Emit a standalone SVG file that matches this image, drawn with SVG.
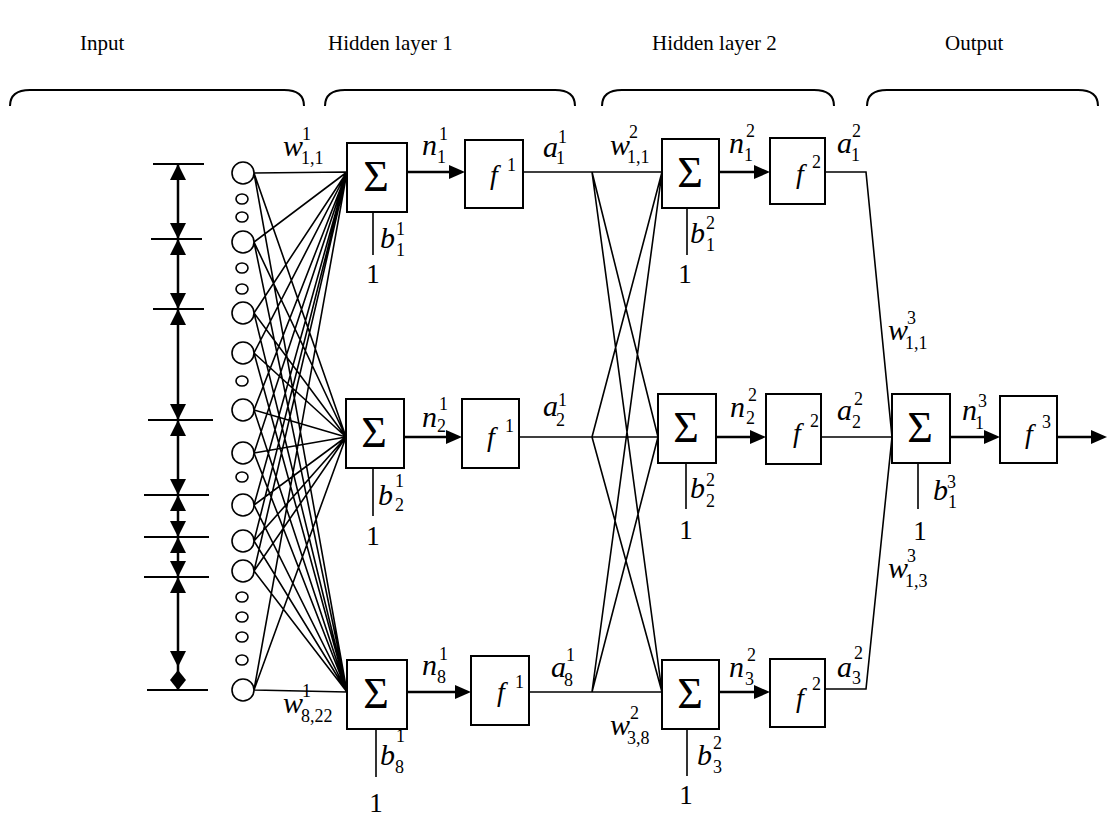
<svg xmlns="http://www.w3.org/2000/svg" width="1107" height="816" viewBox="0 0 1107 816">
<style>
text{font-family:"Liberation Serif","Times New Roman",Times,"DejaVu Serif","Noto Serif",serif;fill:#000}
.hd{font-size:21px}
.it{font-style:italic;font-size:30px}
.fi{font-style:italic;font-size:28px}
.sc{font-size:18px}
.sg{font-size:44px;text-anchor:middle}
.one{font-size:27px;text-anchor:middle}
.box{fill:#fff;stroke:#000;stroke-width:2}
.ln{fill:none;stroke:#000;stroke-width:1.6}
.th{fill:none;stroke:#000;stroke-width:2.5}
.tk{fill:none;stroke:#000;stroke-width:1.8}
.cir{fill:#fff;stroke:#000;stroke-width:1.6}
.ah{fill:#000;stroke:none}
.br{fill:none;stroke:#000;stroke-width:2}
</style>

<g id="headers">
<text class="hd" x="80" y="50">Input</text>
<text class="hd" x="328" y="50">Hidden layer 1</text>
<text class="hd" x="652" y="50">Hidden layer 2</text>
<text class="hd" x="945" y="50">Output</text>
<path class="br" d="M10 106 C10 96 16 90 30 90 L284 90 C298 90 304 96 304 106"/>
<path class="br" d="M325 106 C325 96 331 90 345 90 L555 90 C569 90 575 96 575 106"/>
<path class="br" d="M602 106 C602 96 608 90 622 90 L814 90 C828 90 834 96 834 106"/>
<path class="br" d="M867 106 C867 96 873 90 887 90 L1078 90 C1092 90 1098 96 1098 106"/>
</g>

<g id="input-ranges">
<line class="tk" x1="153" y1="164" x2="204" y2="164"/>
<line class="tk" x1="151" y1="239" x2="202" y2="239"/>
<line class="tk" x1="153" y1="309" x2="204" y2="309"/>
<line class="tk" x1="148" y1="420" x2="213" y2="420"/>
<line class="tk" x1="144" y1="495" x2="209" y2="495"/>
<line class="tk" x1="144" y1="537" x2="209" y2="537"/>
<line class="tk" x1="144" y1="577" x2="209" y2="577"/>
<line class="tk" x1="147" y1="690" x2="208" y2="690"/>
<line class="th" x1="178" y1="164" x2="178" y2="690"/>
<path class="ah" d="M178 164 L186 180 L170 180 Z M178 239 L186 223 L170 223 Z"/>
<path class="ah" d="M178 239 L186 255 L170 255 Z M178 309 L186 293 L170 293 Z"/>
<path class="ah" d="M178 309 L186 325 L170 325 Z M178 420 L186 404 L170 404 Z"/>
<path class="ah" d="M178 420 L186 436 L170 436 Z M178 495 L186 479 L170 479 Z"/>
<path class="ah" d="M178 495 L186 511 L170 511 Z M178 537 L186 521 L170 521 Z"/>
<path class="ah" d="M178 537 L186 553 L170 553 Z M178 577 L186 561 L170 561 Z"/>
<path class="ah" d="M178 577 L186 593 L170 593 Z M178 667 L186 651 L170 651 Z"/>
<path class="ah" d="M178 670 L186 680 L178 690 L170 680 Z"/>
</g>

<g id="connectors">
<path class="ln" d="M254 173 L347 172 M254 173 L346 437 M254 173 L347 692
M254 242 L347 172 M254 242 L346 437 M254 242 L347 692
M254 313 L347 172 M254 313 L346 437 M254 313 L347 692
M254 353 L347 172 M254 353 L346 437 M254 353 L347 692
M254 410 L347 172 M254 410 L346 437 M254 410 L347 692
M254 453 L347 172 M254 453 L346 437 M254 453 L347 692
M254 505 L347 172 M254 505 L346 437 M254 505 L347 692
M254 541 L347 172 M254 541 L346 437 M254 541 L347 692
M254 571 L347 172 M254 571 L346 437 M254 571 L347 692
M254 690 L347 172 M254 690 L346 437 M254 690 L347 692"/>
<line class="th" x1="407" y1="172" x2="450" y2="172"/>
<path class="ah" d="M465 172 L449 165 L449 179 Z"/>
<line class="th" x1="404" y1="437" x2="447" y2="437"/>
<path class="ah" d="M462 437 L446 430 L446 444 Z"/>
<line class="th" x1="407" y1="692" x2="456" y2="692"/>
<path class="ah" d="M471 692 L455 685 L455 699 Z"/>
<path class="ln" d="M373 212 L373 255 M373 468 L373 516 M376 729 L376 777 M687 208 L687 255 M686 463 L686 509 M687 729 L687 776 M918 463 L918 509"/>
<path class="ln" d="M523 172 L662 172 M519 437 L658 437 M529 692 L662 692
M592 172 L658 437 M592 172 L662 692
M592 437 L662 172 M592 437 L662 692
M592 692 L662 172 M592 692 L658 437"/>
<line class="th" x1="719" y1="172" x2="755" y2="172"/>
<path class="ah" d="M770 172 L754 165 L754 179 Z"/>
<line class="th" x1="716" y1="437" x2="751" y2="437"/>
<path class="ah" d="M766 437 L750 430 L750 444 Z"/>
<line class="th" x1="719" y1="692" x2="755" y2="692"/>
<path class="ah" d="M770 692 L754 685 L754 699 Z"/>
<path class="ln" d="M825 172 L866 172 L892 437 M821 437 L892 437 M825 689 L866 689 L892 437"/>
<line class="th" x1="950" y1="437" x2="985" y2="437"/>
<path class="ah" d="M1000 437 L984 430 L984 444 Z"/>
<line class="th" x1="1057" y1="437" x2="1092" y2="437"/>
<path class="ah" d="M1107 437 L1091 430 L1091 444 Z"/>
</g>

<g id="input-nodes">
<circle class="cir" cx="243" cy="173" r="11"/>
<ellipse class="cir" cx="242" cy="199" rx="6" ry="5"/>
<ellipse class="cir" cx="242" cy="217" rx="6" ry="5"/>
<circle class="cir" cx="243" cy="242" r="11"/>
<ellipse class="cir" cx="242" cy="268" rx="6" ry="5"/>
<ellipse class="cir" cx="242" cy="289" rx="6" ry="5"/>
<circle class="cir" cx="243" cy="313" r="11"/>
<circle class="cir" cx="243" cy="353" r="11"/>
<ellipse class="cir" cx="242" cy="381" rx="6" ry="5"/>
<circle class="cir" cx="243" cy="410" r="11"/>
<circle class="cir" cx="243" cy="453" r="11"/>
<ellipse class="cir" cx="242" cy="477" rx="6" ry="5"/>
<circle class="cir" cx="243" cy="505" r="11"/>
<circle class="cir" cx="243" cy="541" r="11"/>
<circle class="cir" cx="243" cy="571" r="11"/>
<ellipse class="cir" cx="242" cy="597" rx="6" ry="5"/>
<ellipse class="cir" cx="242" cy="617" rx="6" ry="5"/>
<ellipse class="cir" cx="242" cy="637" rx="6" ry="5"/>
<ellipse class="cir" cx="242" cy="660" rx="6" ry="5"/>
<circle class="cir" cx="243" cy="690" r="11"/>
<text class="it" x="283" y="156">w</text><text class="sc" x="302" y="140">1</text><text class="sc" x="301" y="164">1,1</text>
<text class="it" x="283" y="713">w</text><text class="sc" x="302" y="697">1</text><text class="sc" x="301" y="722">8,22</text>
</g>

<g id="h1-n1">
<rect class="box" x="347" y="143" width="60" height="69"/>
<text class="sg" x="376" y="191">Σ</text>
<text class="it" x="422" y="155">n</text><text class="sc" x="439" y="140">1</text><text class="sc" x="437" y="163">1</text>
<rect class="box" x="465" y="140" width="58" height="68"/>
<text class="fi" x="490" y="184">f</text><text class="sc" x="507" y="171">1</text>
<text class="it" x="543" y="157">a</text><text class="sc" x="558" y="143">1</text><text class="sc" x="556" y="164">1</text>
<text class="it" x="380" y="248">b</text><text class="sc" x="396" y="235">1</text><text class="sc" x="396" y="256">1</text>
<text class="one" x="373" y="283">1</text>
</g>

<g id="h1-n2">
<rect class="box" x="346" y="399" width="58" height="69"/>
<text class="sg" x="374" y="447">Σ</text>
<text class="it" x="422" y="427">n</text><text class="sc" x="439" y="410">1</text><text class="sc" x="437" y="432">2</text>
<rect class="box" x="462" y="399" width="57" height="69"/>
<text class="fi" x="487" y="446">f</text><text class="sc" x="505" y="432">1</text>
<text class="it" x="543" y="416">a</text><text class="sc" x="558" y="406">1</text><text class="sc" x="556" y="426">2</text>
<text class="it" x="378" y="505">b</text><text class="sc" x="395" y="487">1</text><text class="sc" x="395" y="511">2</text>
<text class="one" x="373" y="545">1</text>
</g>

<g id="h1-n8">
<rect class="box" x="347" y="660" width="60" height="69"/>
<text class="sg" x="376" y="708">Σ</text>
<text class="it" x="422" y="675">n</text><text class="sc" x="439" y="660">1</text><text class="sc" x="437" y="683">8</text>
<rect class="box" x="471" y="656" width="58" height="69"/>
<text class="fi" x="497" y="701">f</text><text class="sc" x="515" y="688">1</text>
<text class="it" x="551" y="677">a</text><text class="sc" x="566" y="661">1</text><text class="sc" x="564" y="686">8</text>
<text class="it" x="380" y="765">b</text><text class="sc" x="396" y="742">1</text><text class="sc" x="395" y="773">8</text>
<text class="one" x="376" y="812">1</text>
</g>

<g id="h2-n1">
<text class="it" x="610" y="155">w</text><text class="sc" x="629" y="138">2</text><text class="sc" x="627" y="163">1,1</text>
<rect class="box" x="662" y="139" width="57" height="69"/>
<text class="sg" x="690" y="187">Σ</text>
<text class="it" x="729" y="153">n</text><text class="sc" x="746" y="137">2</text><text class="sc" x="744" y="161">1</text>
<rect class="box" x="770" y="138" width="55" height="66"/>
<text class="fi" x="796" y="183">f</text><text class="sc" x="812" y="168">2</text>
<text class="it" x="837" y="153">a</text><text class="sc" x="852" y="137">2</text><text class="sc" x="851" y="161">1</text>
<text class="it" x="690" y="243">b</text><text class="sc" x="706" y="229">2</text><text class="sc" x="706" y="251">1</text>
<text class="one" x="685" y="283">1</text>
</g>

<g id="h2-n2">
<rect class="box" x="658" y="394" width="58" height="69"/>
<text class="sg" x="686" y="442">Σ</text>
<text class="it" x="730" y="417">n</text><text class="sc" x="748" y="401">2</text><text class="sc" x="746" y="424">2</text>
<rect class="box" x="766" y="394" width="55" height="70"/>
<text class="fi" x="793" y="442">f</text><text class="sc" x="810" y="427">2</text>
<text class="it" x="837" y="420">a</text><text class="sc" x="854" y="405">2</text><text class="sc" x="852" y="428">2</text>
<text class="it" x="690" y="498">b</text><text class="sc" x="706" y="486">2</text><text class="sc" x="706" y="507">2</text>
<text class="one" x="686" y="539">1</text>
</g>

<g id="h2-n3">
<text class="it" x="610" y="735">w</text><text class="sc" x="630" y="719">2</text><text class="sc" x="627" y="744">3,8</text>
<rect class="box" x="662" y="660" width="57" height="69"/>
<text class="sg" x="690" y="708">Σ</text>
<text class="it" x="729" y="677">n</text><text class="sc" x="747" y="661">2</text><text class="sc" x="745" y="685">3</text>
<rect class="box" x="770" y="659" width="55" height="68"/>
<text class="fi" x="796" y="707">f</text><text class="sc" x="812" y="690">2</text>
<text class="it" x="837" y="677">a</text><text class="sc" x="854" y="659">2</text><text class="sc" x="852" y="684">3</text>
<text class="it" x="697" y="765">b</text><text class="sc" x="713" y="749">2</text><text class="sc" x="713" y="773">3</text>
<text class="one" x="686" y="804">1</text>
</g>

<g id="out-n1">
<text class="it" x="888" y="340">w</text><text class="sc" x="907" y="324">3</text><text class="sc" x="905" y="349">1,1</text>
<text class="it" x="888" y="578">w</text><text class="sc" x="907" y="562">3</text><text class="sc" x="905" y="587">1,3</text>
<rect class="box" x="892" y="394" width="58" height="69"/>
<text class="sg" x="920" y="442">Σ</text>
<text class="it" x="962" y="420">n</text><text class="sc" x="978" y="407">3</text><text class="sc" x="975" y="429">1</text>
<rect class="box" x="1000" y="396" width="57" height="67"/>
<text class="fi" x="1025" y="443">f</text><text class="sc" x="1042" y="428">3</text>
<text class="it" x="933" y="500">b</text><text class="sc" x="947" y="488">3</text><text class="sc" x="948" y="508">1</text>
<text class="one" x="920" y="540">1</text>
</g>
</svg>
